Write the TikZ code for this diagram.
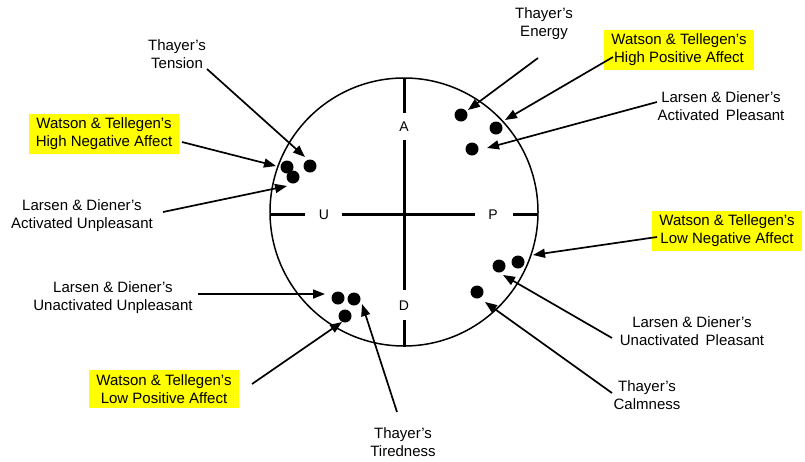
\documentclass[tikz,border=0pt]{standalone}
\usepackage{fontspec}
\setmainfont{Liberation Sans}
\usetikzlibrary{arrows.meta}
\definecolor{hl}{RGB}{255,255,0}
\begin{document}
\begin{tikzpicture}[x=1pt,y=-1pt,
  lbl/.style={align=center,inner sep=0pt,font=\fontsize{15}{18}\selectfont},
  hlbl/.style={lbl,fill=hl,inner xsep=7pt,inner ysep=4.5pt},
  axis/.style={line width=3pt},
  pt/.style={circle,fill=black,inner sep=0pt,minimum size=13pt},
  ptr/.style={line width=1.7pt,-{Triangle[length=12pt,width=9pt]}},
  axlbl/.style={font=\fontsize{14}{14}\selectfont,inner sep=0pt}
]
\useasboundingbox (0,0) rectangle (805,461);

% circumplex
\draw[line width=1.5pt] (404,212) circle[radius=134];

% axes with gaps for the letters
\draw[axis] (404,79) -- (404,113);
\draw[axis] (404,140) -- (404,290);
\draw[axis] (404,320) -- (404,347);
\draw[axis] (270,214) -- (305,214);
\draw[axis] (342,214) -- (475,214);
\draw[axis] (513,214) -- (537,214);
\node[axlbl] (A) at (404,127) {A};
\node[axlbl] (D) at (404,306) {D};
\node[axlbl] (U) at (324,215) {U};
\node[axlbl] (P) at (493,215) {P};

% scale positions
\node[pt] (d-energy)  at (461,115) {};
\node[pt] (d-hpa)     at (496,128) {};
\node[pt] (d-ap)      at (472,149) {};
\node[pt] (d-tension) at (310,166) {};
\node[pt] (d-hna)     at (287,167) {};
\node[pt] (d-au)      at (293,177) {};
\node[pt] (d-lna)     at (518,262) {};
\node[pt] (d-up)      at (499,266) {};
\node[pt] (d-calm)    at (477,292) {};
\node[pt] (d-uu)      at (338,298) {};
\node[pt] (d-tired)   at (354,299) {};
\node[pt] (d-lpa)     at (345,316) {};

% labels
\node[lbl]  (l-tension) at (177,54)  {Thayer’s\\Tension};
\node[hlbl] (l-hna)     at (104,134) {Watson \& Tellegen’s\\High Negative Affect};
\node[lbl]  (l-au)      at (82,216)  {Larsen \& Diener’s\\Activated Unpleasant};
\node[lbl]  (l-energy)  at (544,24)  {Thayer’s\\Energy};
\node[hlbl] (l-hpa)     at (679,50)  {Watson \& Tellegen’s\\High Positive Affect};
\node[lbl]  (l-ap)      at (721,106) {Larsen \& Diener’s\\Activated\, Pleasant};
\node[hlbl] (l-lna)     at (727,231) {Watson \& Tellegen’s\\Low Negative Affect};
\node[lbl]  (l-up)      at (692,331) {Larsen \& Diener’s\\Unactivated\, Pleasant};
\node[lbl]  (l-calm)    at (647,395) {Thayer’s\\Calmness};
\node[lbl]  (l-uu)      at (113,298) {Larsen \& Diener’s\\Unactivated Unpleasant};
\node[hlbl] (l-lpa)     at (164,389) {Watson \& Tellegen’s\\Low Positive Affect};
\node[lbl]  (l-tired)   at (403,442) {Thayer’s\\Tiredness};

% pointer ends
\coordinate (s-tension) at (207,69);  \coordinate (t-tension) at (305,157);
\coordinate (s-hna)     at (182,142); \coordinate (t-hna)     at (276,166);
\coordinate (s-au)      at (163,212); \coordinate (t-au)      at (287,186);
\coordinate (s-energy)  at (538,58);  \coordinate (t-energy)  at (468,110);
\coordinate (s-hpa)     at (613,57);  \coordinate (t-hpa)     at (505,120);
\coordinate (s-ap)      at (657,102); \coordinate (t-ap)      at (487,148);
\coordinate (s-lna)     at (657,237); \coordinate (t-lna)     at (533,255);
\coordinate (s-up)      at (612,338); \coordinate (t-up)      at (503,275);
\coordinate (s-calm)    at (612,393); \coordinate (t-calm)    at (485,302);
\coordinate (s-uu)      at (198,294); \coordinate (t-uu)      at (325,294);
\coordinate (s-lpa)     at (252,384); \coordinate (t-lpa)     at (342,322);
\coordinate (s-tired)   at (397,412); \coordinate (t-tired)   at (362,304);

\foreach \k in {tension,hna,au,energy,hpa,ap,lna,up,calm,uu,lpa,tired}
  \draw[ptr] (s-\k) -- (t-\k);
\end{tikzpicture}
\end{document}
